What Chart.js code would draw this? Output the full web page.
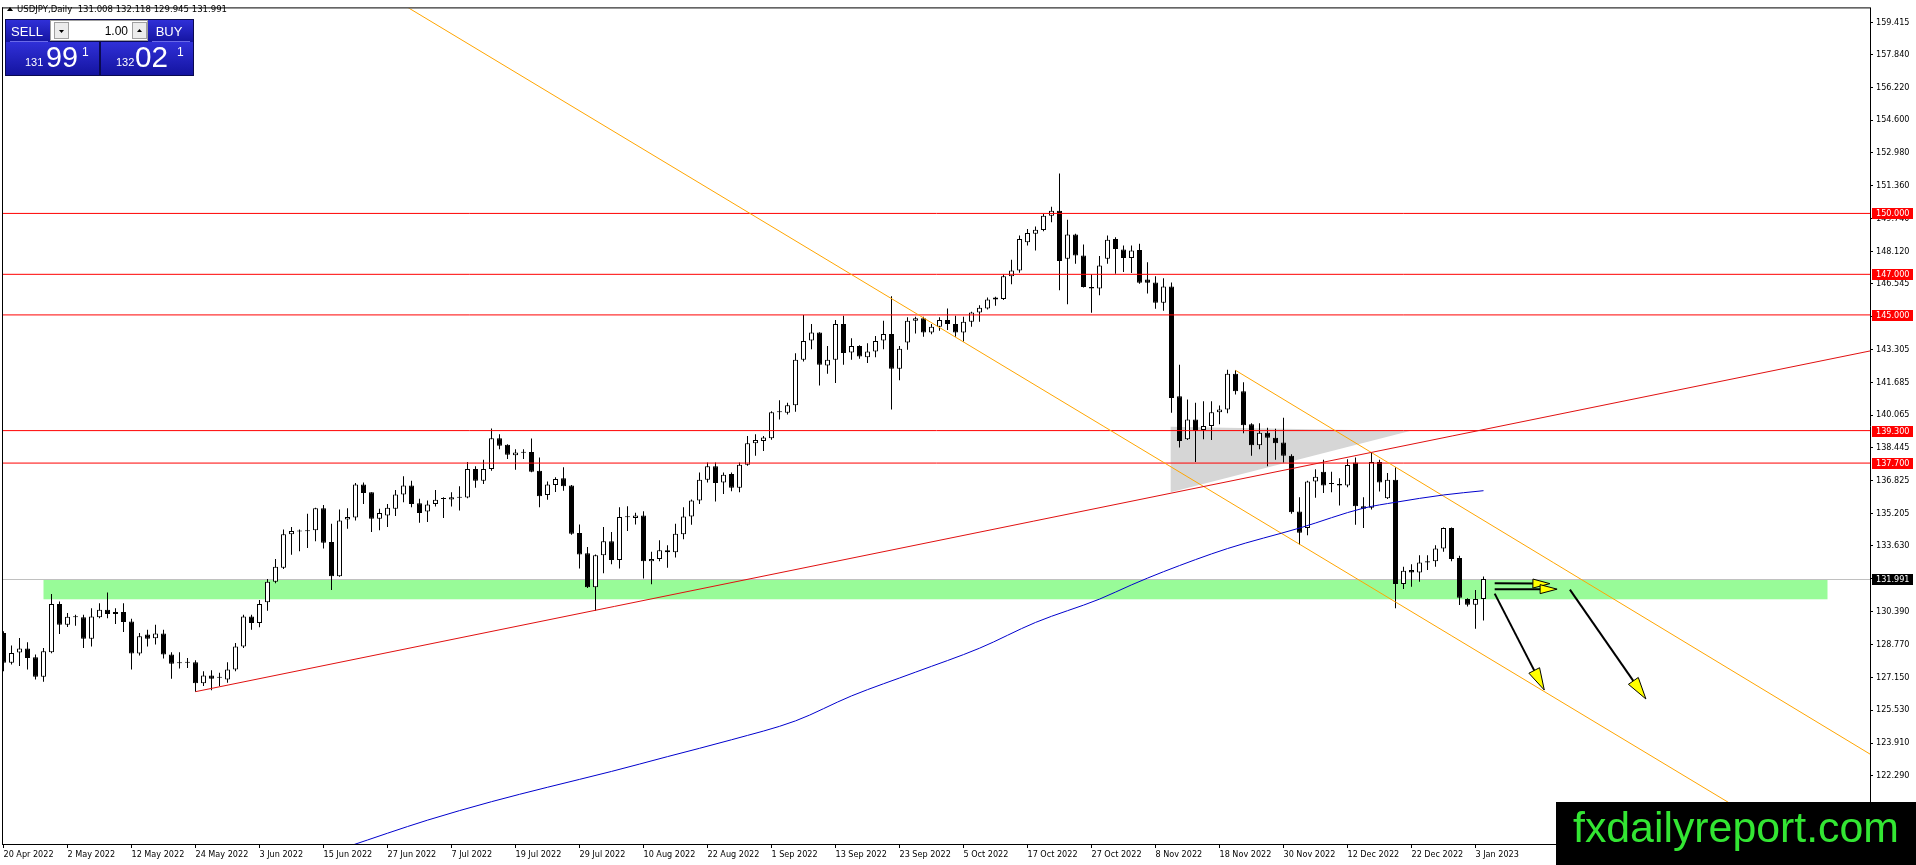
<!DOCTYPE html>
<html>
<head>
<meta charset="utf-8">
<title>USDJPY Daily</title>
<script src="https://cdn.jsdelivr.net/npm/chart.js@4.4.0/dist/chart.umd.min.js"></script>
<style>
  html, body { margin: 0; padding: 0; background: #fff; }
  #wrap { width: 1916px; height: 865px; }
</style>
</head>
<body>
<div id="wrap"><canvas id="chart" width="1916" height="865"></canvas></div>
<script>
// date labels, one every 8 daily bars, first one on bar 0
const dateTicks = ['20 Apr 2022', '2 May 2022', '12 May 2022', '24 May 2022', '3 Jun 2022', '15 Jun 2022',
    '27 Jun 2022', '7 Jul 2022', '19 Jul 2022', '29 Jul 2022', '10 Aug 2022', '22 Aug 2022', '1 Sep 2022',
    '13 Sep 2022', '23 Sep 2022', '5 Oct 2022', '17 Oct 2022', '27 Oct 2022', '8 Nov 2022', '18 Nov 2022',
    '30 Nov 2022', '12 Dec 2022', '22 Dec 2022', '3 Jan 2023'];
const tickStep = 8;

const priceTicks = [159.415, 157.840, 156.220, 154.600, 152.980, 151.360, 149.740, 148.120, 146.545, 144.925,
    143.305, 141.685, 140.065, 138.445, 136.825, 135.205, 133.630, 132.010, 130.390, 128.770, 127.150,
    125.530, 123.910, 122.290, 120.670];

// daily candles, 20 Apr 2022 .. 4 Jan 2023
const opens = [
    129.33, 127.86, 128.37, 128.56, 128.14, 127.17, 128.38, 130.76, 129.74, 130.10,
    130.10, 129.05, 130.11, 130.47, 130.27, 130.37, 129.90, 128.32, 129.25, 129.07,
    129.30, 128.27, 127.89, 127.90, 127.89, 126.85, 127.24, 127.13, 127.04, 127.53,
    128.67, 130.14, 129.82, 130.85, 131.86, 132.54, 134.19, 134.35, 134.39, 134.39,
    135.48, 133.81, 132.13, 134.92, 135.02, 136.65, 136.26, 134.96, 135.12, 135.45,
    136.15, 136.59, 135.72, 135.32, 135.68, 135.93, 135.91, 136.04, 136.00, 137.41,
    136.83, 137.41, 138.92, 138.60, 138.09, 138.21, 138.25, 137.32, 136.13, 136.62,
    136.95, 136.59, 134.26, 133.26, 131.58, 133.16, 133.85, 132.92, 135.03, 135.00,
    135.12, 132.87, 132.97, 133.41, 133.31, 134.19, 135.07, 135.86, 136.88, 137.54,
    136.75, 137.16, 136.48, 137.62, 138.68, 138.79, 138.92, 140.21, 140.18, 140.55,
    142.79, 143.74, 144.13, 142.51, 142.79, 144.55, 143.15, 143.47, 142.92, 143.20,
    143.74, 144.06, 142.35, 143.64, 144.71, 144.83, 144.13, 144.42, 144.75, 144.55,
    144.13, 144.66, 145.12, 145.32, 145.76, 145.78, 146.90, 147.19, 148.58, 149.00,
    149.18, 149.89, 150.13, 147.77, 148.96, 147.93, 146.38, 146.30, 147.77, 148.74,
    148.22, 147.80, 148.20, 146.74, 146.60, 145.60, 146.40, 140.99, 138.87, 139.85,
    139.33, 139.53, 140.21, 140.34, 142.10, 141.24, 139.61, 138.58, 139.20, 138.95,
    138.71, 138.06, 135.32, 134.50, 136.79, 137.27, 136.68, 136.67, 136.59, 137.73,
    135.58, 135.50, 137.76, 135.97, 136.88, 131.74, 132.43, 132.31, 132.87, 132.87,
    133.49, 134.50, 133.03, 131.01, 130.72, 131.008];
const highs = [
    129.41, 128.71, 129.08, 128.87, 128.27, 128.59, 131.25, 130.88, 130.31, 130.23,
    130.23, 130.55, 130.80, 131.32, 130.55, 130.80, 130.03, 129.33, 129.49, 129.74,
    129.49, 128.38, 128.38, 128.10, 127.99, 127.45, 127.49, 127.37, 127.89, 128.84,
    130.23, 130.23, 130.96, 131.99, 132.97, 134.43, 134.55, 134.43, 135.20, 135.50,
    135.64, 134.71, 135.41, 135.48, 136.72, 136.75, 136.26, 135.45, 135.69, 136.38,
    137.05, 136.83, 135.94, 135.86, 136.38, 136.02, 136.26, 136.56, 137.76, 137.54,
    137.86, 139.40, 139.12, 138.63, 138.38, 138.38, 138.91, 137.98, 136.79, 137.00,
    137.49, 136.62, 134.68, 133.57, 133.20, 134.55, 134.31, 135.53, 135.58, 135.25,
    135.33, 133.33, 133.90, 133.65, 134.71, 135.53, 135.91, 137.24, 137.73, 137.73,
    137.24, 137.24, 137.73, 139.04, 139.12, 139.04, 140.26, 140.80, 140.67, 143.11,
    144.99, 144.55, 144.15, 143.47, 144.75, 144.96, 143.85, 143.50, 143.60, 143.96,
    144.71, 145.92, 143.47, 144.88, 144.91, 144.91, 144.55, 144.88, 145.32, 144.96,
    144.91, 145.16, 145.48, 145.86, 145.89, 147.00, 147.72, 148.91, 149.23, 149.35,
    149.97, 150.33, 151.97, 149.69, 149.00, 148.47, 147.00, 147.90, 148.91, 148.83,
    148.42, 148.42, 148.50, 147.60, 146.90, 146.80, 146.60, 142.54, 140.83, 140.67,
    140.75, 140.75, 140.54, 142.30, 142.27, 141.68, 139.66, 139.66, 139.44, 139.39,
    139.93, 138.14, 136.02, 136.83, 137.40, 137.86, 137.27, 136.95, 137.89, 137.97,
    136.02, 138.22, 137.86, 137.21, 137.49, 132.59, 132.72, 133.16, 133.16, 133.65,
    134.53, 134.53, 133.13, 131.04, 131.45, 132.118];
const lows = [
    127.45, 127.78, 127.70, 127.53, 127.04, 126.93, 128.33, 129.28, 129.62, 129.69,
    128.59, 128.67, 130.06, 130.06, 129.77, 129.38, 127.53, 128.22, 128.67, 128.76,
    128.07, 127.08, 127.58, 127.61, 126.44, 126.72, 126.51, 126.72, 126.88, 127.45,
    128.59, 129.49, 129.61, 130.42, 131.78, 132.48, 133.19, 133.36, 133.52, 133.85,
    133.49, 131.45, 132.10, 134.47, 134.87, 135.69, 134.30, 134.39, 134.55, 135.09,
    135.77, 135.53, 134.76, 134.80, 135.56, 134.99, 135.56, 135.37, 135.97, 136.48,
    136.67, 137.32, 138.38, 137.90, 137.37, 137.90, 137.25, 135.53, 135.89, 136.27,
    136.34, 134.17, 132.51, 131.55, 130.42, 132.27, 132.72, 132.51, 134.36, 134.68,
    132.02, 131.73, 132.87, 132.54, 133.05, 133.95, 134.66, 135.69, 136.75, 135.81,
    136.18, 136.31, 136.26, 137.57, 138.06, 138.30, 138.85, 139.85, 140.10, 140.23,
    142.71, 143.31, 141.52, 142.10, 141.65, 142.54, 142.79, 142.84, 142.63, 142.92,
    143.31, 140.34, 141.78, 143.28, 144.09, 143.93, 144.05, 144.22, 144.26, 143.93,
    143.69, 144.42, 144.66, 145.27, 145.45, 145.73, 146.51, 147.08, 148.42, 148.17,
    149.12, 149.56, 146.22, 145.53, 147.52, 146.35, 145.11, 145.97, 147.52, 147.03,
    147.11, 147.06, 146.54, 146.05, 145.30, 145.20, 140.18, 138.47, 138.84, 137.76,
    138.87, 138.84, 139.61, 140.15, 141.08, 139.17, 138.06, 138.38, 137.54, 137.86,
    137.73, 135.20, 133.68, 134.14, 135.99, 136.23, 136.26, 135.61, 136.51, 134.66,
    134.50, 135.41, 136.30, 135.93, 130.55, 131.50, 131.61, 131.86, 132.43, 132.59,
    133.33, 132.87, 130.71, 130.63, 129.54, 129.945];
const closes = [
    127.86, 128.35, 128.56, 128.10, 127.17, 128.43, 130.76, 129.74, 130.13, 130.12,
    129.05, 130.14, 130.47, 130.26, 130.37, 129.87, 128.32, 129.17, 129.05, 129.30,
    128.27, 127.81, 127.84, 127.87, 126.85, 127.24, 127.08, 127.12, 127.53, 128.67,
    130.14, 129.82, 130.76, 131.86, 132.59, 134.19, 134.35, 134.33, 134.34, 135.48,
    133.78, 132.13, 134.87, 135.04, 136.65, 136.23, 134.96, 135.24, 135.50, 136.15,
    136.59, 135.69, 135.24, 135.66, 135.90, 135.94, 136.02, 135.99, 137.41, 136.83,
    137.41, 138.92, 138.55, 138.11, 138.22, 138.23, 137.27, 136.07, 136.64, 136.92,
    136.56, 134.22, 133.20, 131.58, 133.16, 133.85, 132.92, 135.04, 135.05, 135.12,
    132.87, 132.97, 133.41, 133.31, 134.22, 135.07, 135.86, 136.88, 137.54, 136.72,
    137.13, 136.48, 137.62, 138.68, 138.84, 138.96, 140.21, 140.22, 140.55, 142.79,
    143.72, 144.13, 142.54, 142.79, 144.55, 143.12, 143.47, 142.95, 143.20, 143.72,
    144.06, 142.35, 143.33, 144.71, 144.83, 144.13, 144.42, 144.75, 144.55, 144.13,
    144.66, 145.12, 145.35, 145.76, 145.86, 146.90, 147.19, 148.74, 149.04, 149.20,
    149.89, 150.13, 147.65, 148.96, 147.93, 146.38, 146.30, 147.44, 148.70, 148.25,
    147.80, 148.17, 146.59, 146.59, 145.60, 146.40, 140.91, 138.79, 139.85, 139.28,
    139.53, 140.21, 140.34, 142.10, 141.24, 139.56, 138.58, 139.20, 138.95, 138.68,
    138.06, 135.28, 134.27, 136.79, 137.03, 136.59, 136.67, 136.59, 137.60, 135.58,
    135.45, 137.76, 136.75, 136.88, 131.74, 132.40, 132.31, 132.80, 132.80, 133.49,
    134.50, 132.97, 131.07, 130.72, 131.01, 131.991];

// moving average, read at a few bars
const maBars = [43, 53, 61, 68, 76, 83, 91, 99, 106, 114, 122, 129, 137, 141, 145, 153, 162, 170, 174, 180, 185];
const maValues = [118.80, 120.11, 121.02, 121.73, 122.51, 123.24, 124.07, 125.00, 126.23, 127.40, 128.58,
    129.85, 131.00, 131.70, 132.35, 133.49, 134.50, 135.48, 135.77, 136.13, 136.34];

// drawn objects, [bar, price]
const levels = [150.000, 147.000, 145.000, 139.300, 137.700];
const lastPrice = 131.991;
const header = 'USDJPY,Daily  131.008 132.118 129.945 131.991';
const zoneBars = [5, 228];
const zonePrices = [130.99, 131.99];
const redTrend = [[24, 126.44], [240, 143.76]];
const orangeLong = [[45, 161.46], [240, 115.20]];
const orangeUpper = [[154, 142.27], [240, 121.77]];
const triangle = [[145.9, 139.49], [175.8, 139.28], [145.9, 136.26]];
const arrowFrom = [[186.4, 131.78], [186.4, 131.49], [186.4, 131.27], [195.8, 131.47]];
const arrowTo = [[193.3, 131.76], [194.2, 131.49], [192.6, 126.52], [205.3, 126.08]];
const arrowHead = [[17, 4.5], [17, 4.5], [22, 6], [22, 6]];

const tickFont = {family: '"DejaVu Sans Condensed", "Liberation Sans", sans-serif', size: 9};

let px = (c, b) => c.scales.x.getPixelForValue(b);
let py = (c, p) => c.scales.y.getPixelForValue(p);
let pts = arr => arr.map(([b, p]) => ({x: b, y: p}));

let fitText = (ctx, text, x, y, w) => {
    const m = ctx.measureText(text).width;
    ctx.save();
    ctx.translate(x, y);
    ctx.scale(w / m, 1);
    ctx.fillText(text, 0, 0);
    ctx.restore();
};

const backdrop = {
    id: 'backdrop',
    beforeDatasetsDraw(c) {
        const ctx = c.ctx, a = c.chartArea;
        ctx.save();
        ctx.beginPath();
        ctx.rect(a.left, a.top, a.right - a.left, a.bottom - a.top);
        ctx.clip();
        // support zone
        const x0 = px(c, zoneBars[0]), x1 = px(c, zoneBars[1]);
        const y0 = py(c, zonePrices[1]), y1 = py(c, zonePrices[0]);
        ctx.fillStyle = '#98fb98';
        ctx.fillRect(x0, y0, x1 - x0, y1 - y0);
        // grey triangle
        ctx.fillStyle = '#d6d6d6';
        ctx.beginPath();
        triangle.forEach(([b, p], i) => i ? ctx.lineTo(px(c, b), py(c, p)) : ctx.moveTo(px(c, b), py(c, p)));
        ctx.closePath();
        ctx.fill();
        // bid line
        const yl = Math.round(py(c, lastPrice)) + 0.5;
        ctx.strokeStyle = '#c0c0c0';
        ctx.lineWidth = 1;
        ctx.beginPath();
        ctx.moveTo(a.left, yl);
        ctx.lineTo(a.right, yl);
        ctx.stroke();
        ctx.restore();
    }
};

const arrowsPlugin = {
    id: 'arrows',
    afterDatasetsDraw(c) {
        const ctx = c.ctx;
        ctx.save();
        arrowFrom.forEach((f, i) => {
            const x0 = px(c, f[0]), y0 = py(c, f[1]);
            const x1 = px(c, arrowTo[i][0]), y1 = py(c, arrowTo[i][1]);
            const [len, half] = arrowHead[i];
            const ang = Math.atan2(y1 - y0, x1 - x0);
            const bx = x1 - Math.cos(ang) * len, by = y1 - Math.sin(ang) * len;
            ctx.strokeStyle = '#000';
            ctx.lineWidth = 2;
            ctx.beginPath();
            ctx.moveTo(x0, y0);
            ctx.lineTo(bx + Math.cos(ang) * 3, by + Math.sin(ang) * 3);
            ctx.stroke();
            ctx.beginPath();
            ctx.moveTo(x1, y1);
            ctx.lineTo(bx + Math.sin(ang) * half, by - Math.cos(ang) * half);
            ctx.lineTo(bx - Math.sin(ang) * half, by + Math.cos(ang) * half);
            ctx.closePath();
            ctx.fillStyle = '#ffff00';
            ctx.fill();
            ctx.lineWidth = 1;
            ctx.stroke();
        });
        ctx.restore();
    }
};

let blueBox = (ctx, x, y, w, h) => {
    const g = ctx.createLinearGradient(0, y, 0, y + h);
    g.addColorStop(0, '#3030d8');
    g.addColorStop(1, '#1414a0');
    ctx.fillStyle = g;
    ctx.fillRect(x, y, w, h);
};

let drawPanel = ctx => {
    ctx.fillStyle = '#0a0a50';
    ctx.fillRect(5, 19, 189, 57);
    blueBox(ctx, 6, 20, 44, 22);
    blueBox(ctx, 148, 20, 45, 22);
    blueBox(ctx, 6, 42, 93, 33);
    blueBox(ctx, 101, 42, 92, 33);
    ctx.fillStyle = '#6a6ae8';
    ctx.fillRect(10, 41, 38, 1);
    ctx.fillRect(152, 41, 38, 1);
    // lot spinner
    ctx.fillStyle = '#fff';
    ctx.fillRect(50, 20, 98, 21);
    ctx.strokeStyle = '#a0a0a0';
    ctx.lineWidth = 1;
    ctx.strokeRect(50.5, 20.5, 97, 20);
    ctx.fillStyle = '#ececec';
    ctx.fillRect(54, 22, 14, 17);
    ctx.fillRect(132, 22, 15, 17);
    ctx.strokeRect(54.5, 22.5, 14, 16);
    ctx.strokeRect(132.5, 22.5, 14, 16);
    ctx.fillStyle = '#000';
    ctx.beginPath();
    ctx.moveTo(59, 30); ctx.lineTo(64, 30); ctx.lineTo(61.5, 33); ctx.closePath(); ctx.fill();
    ctx.beginPath();
    ctx.moveTo(137, 32); ctx.lineTo(142, 32); ctx.lineTo(139.5, 29); ctx.closePath(); ctx.fill();
    ctx.textBaseline = 'alphabetic';
    ctx.font = '12px "Liberation Sans", sans-serif';
    ctx.textAlign = 'right';
    ctx.fillText('1.00', 128, 35);
    ctx.fillStyle = '#fff';
    ctx.textAlign = 'center';
    ctx.font = '13px "Liberation Sans", sans-serif';
    ctx.fillText('SELL', 27, 36);
    ctx.fillText('BUY', 169, 36);
    // prices
    ctx.textAlign = 'left';
    ctx.font = '11px "Liberation Sans", sans-serif';
    ctx.fillText('131', 25, 66);
    ctx.fillText('132', 116, 66);
    ctx.font = '30px "Liberation Sans", sans-serif';
    fitText(ctx, '99', 46, 67, 32);
    fitText(ctx, '02', 135, 67, 33);
    ctx.font = '12px "Liberation Sans", sans-serif';
    ctx.fillText('1', 82, 56);
    ctx.fillText('1', 177, 56);
};

const overlay = {
    id: 'overlay',
    afterDraw(c) {
        const ctx = c.ctx, a = c.chartArea, ys = c.scales.y;
        ctx.save();
        // frame on left and top
        ctx.fillStyle = '#000';
        ctx.fillRect(a.left - 1, a.top - 1, a.right - a.left + 2, 1);
        ctx.fillRect(a.left - 1, a.top - 1, 1, a.bottom - a.top + 2);
        // price labels on the axis
        ctx.font = '9px "DejaVu Sans Condensed", "Liberation Sans", sans-serif';
        ctx.textBaseline = 'middle';
        ctx.textAlign = 'left';
        const boxes = levels.map(v => [v, '#ff0000']).concat([[lastPrice, '#000000']]);
        boxes.forEach(([v, col]) => {
            const y = Math.round(py(c, v));
            ctx.fillStyle = col;
            ctx.fillRect(ys.left + 2, y - 5, 41, 11);
            ctx.fillStyle = '#fff';
            ctx.fillText(v.toFixed(3), ys.left + 6, y + 0.5);
        });
        // header line
        ctx.fillStyle = '#000';
        ctx.font = '9.5px "DejaVu Sans Condensed", "Liberation Sans", sans-serif';
        ctx.beginPath();
        ctx.moveTo(7, 11); ctx.lineTo(13, 11); ctx.lineTo(10, 7); ctx.closePath(); ctx.fill();
        fitText(ctx, header, 17, 9.5, 210);
        drawPanel(ctx);
        // site logo
        ctx.fillStyle = '#000';
        ctx.fillRect(1556, 802, 360, 63);
        ctx.fillStyle = '#33e633';
        ctx.textBaseline = 'alphabetic';
        ctx.textAlign = 'left';
        ctx.font = '42px "Liberation Sans", Arial, sans-serif';
        fitText(ctx, 'fxdailyreport.com', 1573, 842, 326);
        ctx.restore();
    }
};

const lineSet = (data, color, order) => ({
    type: 'line', data: pts(data), borderColor: color, borderWidth: 1,
    pointRadius: 0, fill: false, tension: 0, clip: 0, order: order
});

const maSet = lineSet(maBars.map((b, i) => [b, maValues[i]]), '#0000cd', 0);
maSet.cubicInterpolationMode = 'monotone';

const datasets = [
    maSet,
    lineSet(redTrend, '#e01010', 0),
    lineSet(orangeLong, '#ffa500', 0),
    lineSet(orangeUpper, '#ffa500', 0),
    ...levels.map(v => lineSet([[-1, v], [240, v]], '#ff0000', 0)),
    {
        label: 'body',
        data: opens.map((o, i) => ({x: i, y: [o, closes[i]]})),
        backgroundColor: opens.map((o, i) => closes[i] >= o ? '#ffffff' : '#000000'),
        borderColor: '#000000',
        borderWidth: 1,
        borderSkipped: false,
        inflateAmount: 0,
        barThickness: 5,
        minBarLength: 1,
        grouped: false,
        order: 1
    },
    {
        label: 'wick',
        data: lows.map((l, i) => ({x: i, y: [l, highs[i]]})),
        backgroundColor: '#000000',
        borderWidth: 0,
        inflateAmount: 0,
        barThickness: 1,
        grouped: false,
        order: 2
    }
];

new Chart(document.getElementById('chart'), {
    type: 'bar',
    data: {datasets: datasets},
    options: {
        responsive: false,
        animation: false,
        events: [],
        layout: {padding: {left: 3, top: 3, right: 0, bottom: 0}},
        plugins: {legend: {display: false}, tooltip: {enabled: false}},
        scales: {
            x: {
                type: 'linear',
                min: -0.0625,
                max: 233.3125,
                offset: false,
                grid: {display: true, offset: false, drawOnChartArea: false, drawTicks: true, tickLength: 4, color: '#000'},
                border: {display: true, color: '#000'},
                ticks: {
                    autoSkip: false, maxRotation: 0, minRotation: 0, align: 'start', padding: 1,
                    font: tickFont, color: '#000',
                    callback: (v, i) => dateTicks[i]
                },
                afterBuildTicks: s => { s.ticks = dateTicks.map((_, k) => ({value: k * tickStep})); },
                afterFit: s => { s.height = 21; }
            },
            y: {
                position: 'right',
                min: 118.935,
                max: 160.1,
                beginAtZero: false,
                grid: {display: true, drawOnChartArea: false, tickLength: 3, color: '#000'},
                border: {display: true, color: '#000'},
                ticks: {autoSkip: false, padding: 3, font: tickFont, color: '#000', callback: v => v.toFixed(3)},
                afterBuildTicks: s => { s.ticks = priceTicks.map(v => ({value: v})); },
                afterFit: s => { s.width = 46; }
            }
        }
    },
    plugins: [backdrop, arrowsPlugin, overlay]
});
</script>
</body>
</html>
